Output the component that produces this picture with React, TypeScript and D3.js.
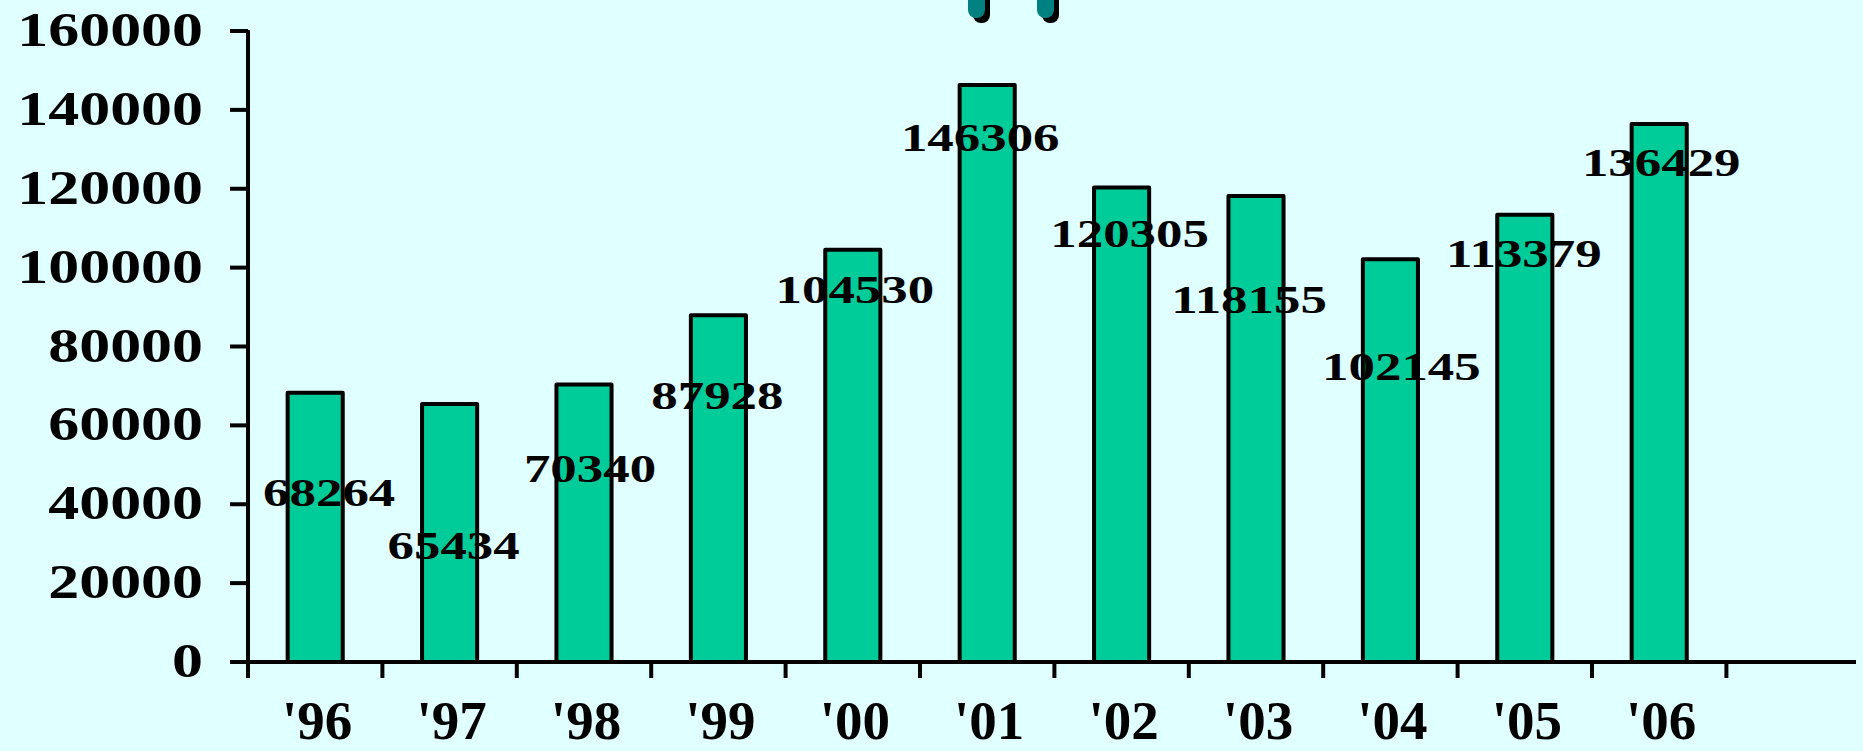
import React from "react";
import * as d3 from "d3";

const categories = ["'96", "'97", "'98", "'99", "'00", "'01", "'02", "'03", "'04", "'05", "'06"];
const values = [68264, 65434, 70340, 87928, 104530, 146306, 120305, 118155, 102145, 113379, 136429];
const yTicks = [0, 20000, 40000, 60000, 80000, 100000, 120000, 140000, 160000];

// label placement (value-space centre of each data label, and small horizontal nudges)
const labelLevels = [42980, 29670, 49190, 67700, 94580, 133120, 108900, 92040, 75050, 103710, 126780];
const labelNudge = [14, 4, 6, -1, 2, -7, 8, -7, 11, -1, 2];

const W = 1863;
const H = 751;
const BG = "#E0FFFF";
const BAR = "#00CC99";
const FONT = "'Liberation Serif', 'Times New Roman', serif";
const STRETCH = 1.29;

export default function App() {
  const x0 = 248;
  const x1 = 248 + 11 * 134.4;
  const xScale = d3.scaleBand<string>().domain(categories).range([x0, x1]).paddingInner(0.59).paddingOuter(0.295);
  const yScale = d3.scaleLinear().domain([0, 160000]).range([662, 31]);
  const step = xScale.step();
  const boundaries = d3.range(categories.length + 1).map((i) => x0 + i * step);
  const yBase = yScale(0);

  return (
    <svg
      width={W}
      height={H}
      viewBox={`0 0 ${W} ${H}`}
      style={{ position: "absolute", left: 0, top: 0, display: "block" }}
    >
      <rect x={0} y={0} width={W} height={H} fill={BG} />

      {/* decorative clips at top */}
      {[968, 1037].map((cx, i) => (
        <g key={i}>
          <rect x={cx + 5} y={-20} width={17} height={43} rx={8} fill="#000" />
          <rect x={cx} y={-20} width={17} height={38} rx={8} fill="#008080" />
        </g>
      ))}

      {/* bars */}
      {values.map((v, i) => (
        <rect
          key={categories[i]}
          x={xScale(categories[i])!}
          y={yScale(v)}
          width={xScale.bandwidth()}
          height={yBase - yScale(v)}
          fill={BAR}
          stroke="#000"
          strokeWidth={4}
          strokeLinejoin="round"
        />
      ))}

      {/* y axis */}
      <line x1={x0} x2={x0} y1={yScale(160000) - 1} y2={yBase + 2} stroke="#000" strokeWidth={4} />
      {yTicks.map((t) => (
        <g key={t}>
          <line x1={x0 - 18} x2={x0} y1={yScale(t)} y2={yScale(t)} stroke="#000" strokeWidth={4} />
          <text
            transform={`translate(203, ${yScale(t) + 15}) scale(${STRETCH}, 1)`}
            textAnchor="end"
            fontFamily={FONT}
            fontWeight="bold"
            fontSize={48}
            fill="#000"
          >
            {t}
          </text>
        </g>
      ))}

      {/* x axis */}
      <line x1={x0 - 2} x2={1856} y1={yBase} y2={yBase} stroke="#000" strokeWidth={4} />
      {boundaries.map((bx, i) => (
        <line key={i} x1={bx} x2={bx} y1={yBase} y2={yBase + 16} stroke="#000" strokeWidth={4} />
      ))}
      {categories.map((c) => (
        <text
          key={c}
          x={xScale(c)! + xScale.bandwidth() / 2 + 2}
          y={739}
          textAnchor="middle"
          fontFamily={FONT}
          fontWeight="bold"
          fontSize={55}
          fill="#000"
        >
          {c}
        </text>
      ))}

      {/* data labels */}
      {values.map((v, i) => (
        <text
          key={"l" + i}
          transform={`translate(${xScale(categories[i])! + xScale.bandwidth() / 2 + labelNudge[i]}, ${
            yScale(labelLevels[i]) + 14
          }) scale(${STRETCH}, 1)`}
          textAnchor="middle"
          fontFamily={FONT}
          fontWeight="bold"
          fontSize={41}
          fill="#000"
        >
          {v}
        </text>
      ))}
    </svg>
  );
}
